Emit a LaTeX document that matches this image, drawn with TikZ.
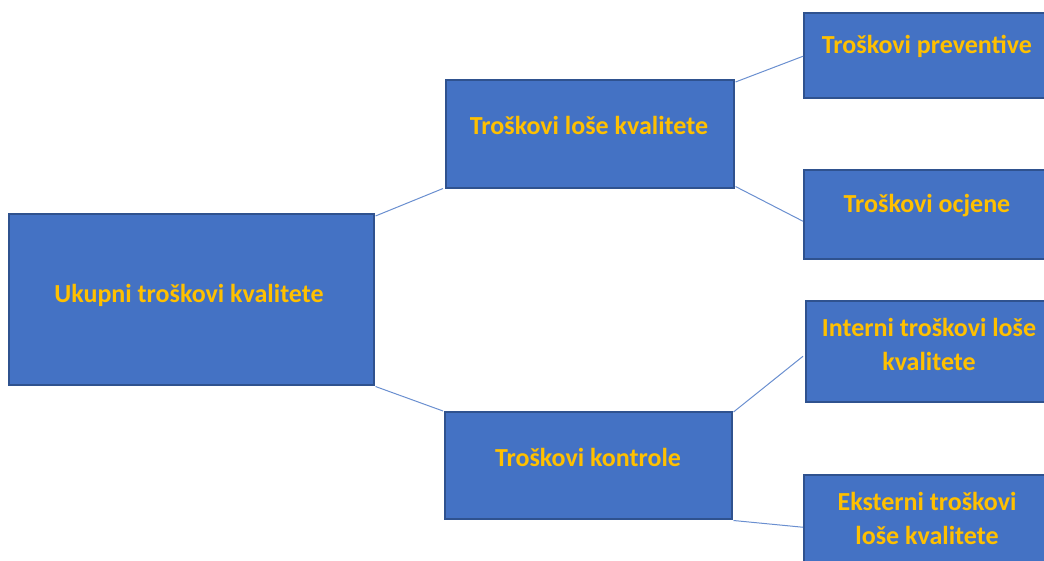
\documentclass[tikz,border=0pt]{standalone}
\usepackage{fontspec}
\setmainfont{Carlito}
\usetikzlibrary{calc}
\definecolor{boxfill}{HTML}{4472C4}
\definecolor{boxline}{HTML}{2F528F}
\definecolor{txtcol}{HTML}{FFC000}
\definecolor{linkcol}{HTML}{6A8FD0}
\begin{document}
\begin{tikzpicture}[x=1pt,y=-1pt,
  box/.style={draw=boxline,line width=1.5pt,fill=boxfill,inner sep=0pt,anchor=north west},
  txt/.style={text=txtcol,font=\bfseries\fontsize{26}{34}\selectfont,align=center,inner sep=0pt},
  link/.style={draw=linkcol,line width=1pt}]
\useasboundingbox (0,0) rectangle (1044,560);
\node[box,minimum width=365pt,minimum height=171pt] (root) at (8,213) {};
\node[box,minimum width=288pt,minimum height=108pt] (mt) at (445,79) {};
\node[box,minimum width=287pt,minimum height=107pt] (mb) at (444,411) {};
\node[box,minimum width=280pt,minimum height=85pt] (r1) at (803,12) {};
\node[box,minimum width=280pt,minimum height=89pt] (r2) at (803,169) {};
\node[box,minimum width=280pt,minimum height=101pt] (r3) at (805,300) {};
\node[box,minimum width=280pt,minimum height=89pt] (r4) at (803,474) {};
\node[txt] (troot) at (189,295) {Ukupni troškovi kvalitete};
\node[txt] (tmt) at (589,125) {Troškovi loše kvalitete};
\node[txt] (tmb) at (588,457) {Troškovi kontrole};
\node[txt] (tr1) at (927,46) {Troškovi preventive};
\node[txt] (tr2) at (927,206) {Troškovi ocjene};
\node[txt] (tr3) at (929,344) {Interni troškovi loše\\kvalitete};
\node[txt] (tr4) at (927,518) {Eksterni troškovi\\loše kvalitete};
\draw[link] ($(root.north east)+(1,3)$) -- ($(mt.south west)+(-2,0)$);
\draw[link] ($(root.south east)+(1,1)$) -- ($(mb.north west)+(-1,0)$);
\draw[link] ($(mt.north east)+(1,3)$) -- ($(r1.west)+(0,1)$);
\draw[link] ($(mt.south east)+(1,-2)$) -- ($(r2.west)+(0,7)$);
\draw[link] ($(mb.north east)+(1,1)$) -- ($(r3.west)+(-2,5)$);
\draw[link] ($(mb.south east)+(1,1)$) -- ($(r4.west)+(0,8)$);
\end{tikzpicture}
\end{document}
